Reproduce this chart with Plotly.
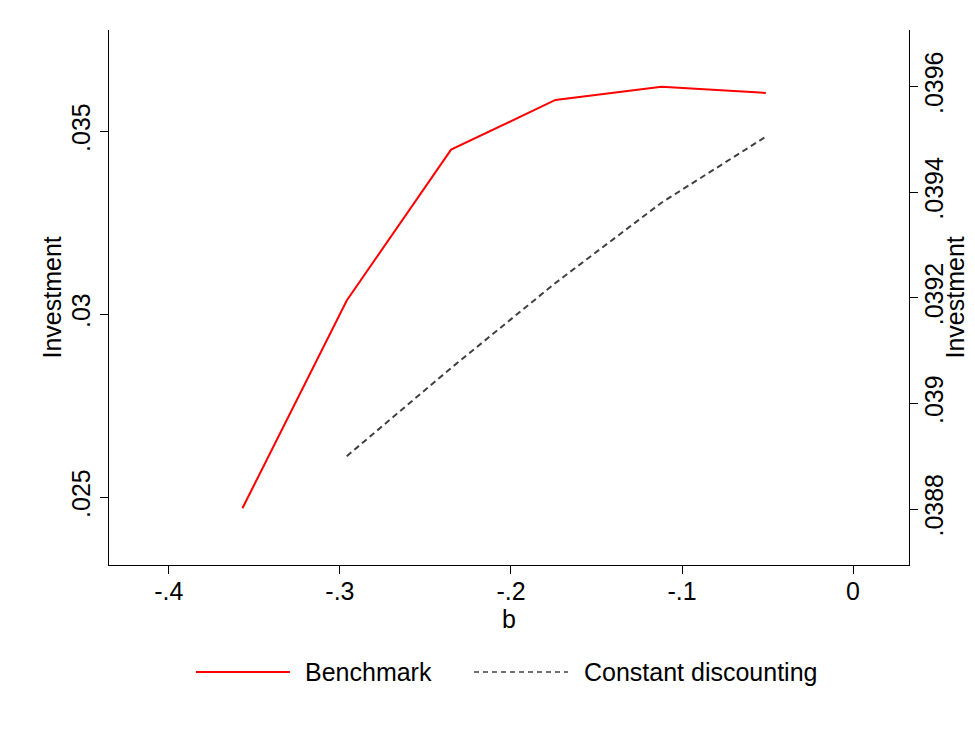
import plotly.graph_objects as go

# Data
b_bench = [-0.357, -0.296, -0.235, -0.174, -0.112, -0.051]
inv_bench = [0.0247, 0.03038, 0.0345, 0.03586, 0.03622, 0.03605]

b_const = [-0.296, -0.235, -0.174, -0.112, -0.051]
inv_const = [0.03890, 0.039067, 0.039228, 0.03938, 0.039505]

x_ticks = [-0.4, -0.3, -0.2, -0.1, 0]
x_labels = ["-.4", "-.3", "-.2", "-.1", "0"]
y1_ticks = [0.025, 0.03, 0.035]
y1_labels = [".025", ".03", ".035"]
y2_ticks = [0.0388, 0.039, 0.0392, 0.0394, 0.0396]
y2_labels = [".0388", ".039", ".0392", ".0394", ".0396"]

FONT = "Liberation Sans, Arial, sans-serif"
FS = 25
RED = "#ff0000"
GRAY = "#404040"

fig = go.Figure()
fig.add_trace(go.Scatter(x=b_bench, y=inv_bench, mode="lines", name="Benchmark",
                         line=dict(color=RED, width=2), yaxis="y", showlegend=False))
fig.add_trace(go.Scatter(x=b_const, y=inv_const, mode="lines", name="Constant discounting",
                         line=dict(color=GRAY, width=2, dash="6px,4px"), yaxis="y2",
                         showlegend=False))

axis_common = dict(showgrid=False, zeroline=False, showline=True, linecolor="black",
                   linewidth=1.3, ticks="outside", ticklen=8, tickwidth=1.2,
                   tickcolor="black", automargin=False,
                   tickfont=dict(family=FONT, size=FS, color="black"))

fig.update_layout(
    width=967, height=700, autosize=False,
    margin=dict(l=101, r=66, t=22, b=143),
    paper_bgcolor="white", plot_bgcolor="white",
    font=dict(family=FONT, size=FS, color="black"),
    xaxis=dict(range=[-0.435, 0.0327], tickvals=x_ticks, ticktext=x_labels,
               ticklabelstandoff=-4,
               title=dict(text="b", standoff=2, font=dict(family=FONT, size=FS)),
               **axis_common),
    yaxis=dict(range=[0.02315, 0.03777], tickvals=y1_ticks, ticktext=y1_labels,
               tickangle=-90, **axis_common),
    yaxis2=dict(range=[0.038694, 0.039707], tickvals=y2_ticks, ticktext=y2_labels,
                tickangle=-90, overlaying="y", side="right", ticklabelstandoff=-5,
                **axis_common),
)

# Axis titles for the y axes (placed relative to the plot area: x 109..909)
def lx(p):
    return (p - 109) / 800

fig.add_annotation(text="Investment", xref="paper", yref="paper", x=lx(51), y=0.5,
                   textangle=-90, showarrow=False, xanchor="center", yanchor="middle",
                   font=dict(family=FONT, size=FS, color="black"))
fig.add_annotation(text="Investment", xref="paper", yref="paper", x=lx(954), y=0.5,
                   textangle=-90, showarrow=False, xanchor="center", yanchor="middle",
                   font=dict(family=FONT, size=FS, color="black"))

# Legend drawn below the plot (Stata-style long line samples)
leg_y = (565 - 672) / 535

fig.add_shape(type="line", xref="paper", yref="paper",
              x0=lx(196), x1=lx(290), y0=leg_y, y1=leg_y,
              line=dict(color=RED, width=2))
fig.add_shape(type="line", xref="paper", yref="paper",
              x0=lx(474), x1=lx(568), y0=leg_y, y1=leg_y,
              line=dict(color=GRAY, width=1.5, dash="5px,4px"))
fig.add_annotation(text="Benchmark", xref="paper", yref="paper",
                   x=lx(303), y=leg_y, xanchor="left", yanchor="middle",
                   showarrow=False, font=dict(family=FONT, size=FS, color="black"))
fig.add_annotation(text="Constant discounting", xref="paper", yref="paper",
                   x=lx(582), y=leg_y, xanchor="left", yanchor="middle",
                   showarrow=False, font=dict(family=FONT, size=FS, color="black"))

fig.write_html("out.html")
